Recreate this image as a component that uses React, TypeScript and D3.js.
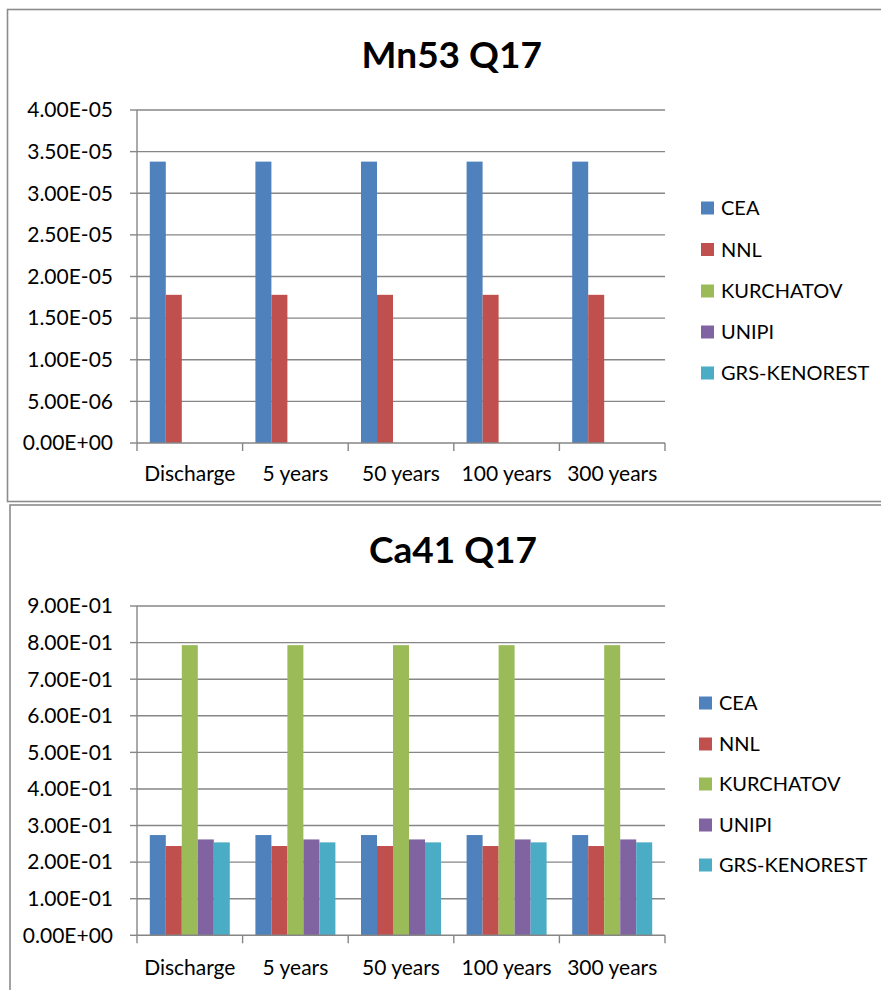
import React from "react";
import * as d3 from "d3";

const categories = ["Discharge", "5 years", "50 years", "100 years", "300 years"];
const seriesNames = ["CEA", "NNL", "KURCHATOV", "UNIPI", "GRS-KENOREST"];
const seriesColors = ["#4F81BD", "#C0504D", "#9BBB59", "#8064A2", "#4BACC6"];

// Mn53 Q17 values per series (one value per category)
const mn53CEA = [3.38e-5, 3.38e-5, 3.38e-5, 3.38e-5, 3.38e-5];
const mn53NNL = [1.78e-5, 1.78e-5, 1.78e-5, 1.78e-5, 1.78e-5];
const mn53KURCHATOV = [0, 0, 0, 0, 0];
const mn53UNIPI = [0, 0, 0, 0, 0];
const mn53GRS = [0, 0, 0, 0, 0];
const mn53Ticks = [0, 5e-6, 1e-5, 1.5e-5, 2e-5, 2.5e-5, 3e-5, 3.5e-5, 4e-5];
const mn53TickLabels = ["0.00E+00", "5.00E-06", "1.00E-05", "1.50E-05", "2.00E-05", "2.50E-05", "3.00E-05", "3.50E-05", "4.00E-05"];

// Ca41 Q17
const ca41CEA = [0.274, 0.274, 0.274, 0.274, 0.274];
const ca41NNL = [0.244, 0.244, 0.244, 0.244, 0.244];
const ca41KURCHATOV = [0.793, 0.793, 0.793, 0.793, 0.793];
const ca41UNIPI = [0.262, 0.262, 0.262, 0.262, 0.262];
const ca41GRS = [0.254, 0.254, 0.254, 0.254, 0.254];
const ca41Ticks = [0, 0.1, 0.2, 0.3, 0.4, 0.5, 0.6, 0.7, 0.8, 0.9];
const ca41TickLabels = ["0.00E+00", "1.00E-01", "2.00E-01", "3.00E-01", "4.00E-01", "5.00E-01", "6.00E-01", "7.00E-01", "8.00E-01", "9.00E-01"];

const FONT = "Lato, 'Open Sans', sans-serif";
const GRID = "#868686";

type PanelProps = {
  title: string;
  frame: { x: number; y: number; w: number; h: number };
  titleY: number;
  plot: { x0: number; x1: number; yTop: number; yBottom: number };
  ticks: number[];
  tickLabels: string[];
  series: number[][];
  catLabelY: number;
  legendX: number;
  legendY: number[];
};

function Panel(p: PanelProps) {
  const x = d3.scaleBand<string>().domain(categories).range([p.plot.x0, p.plot.x1]).paddingInner(0).paddingOuter(0);
  const xi = d3.scaleBand<string>().domain(seriesNames).range([0, x.bandwidth()]).paddingInner(0).paddingOuter(0.8);
  const y = d3.scaleLinear().domain([0, p.ticks[p.ticks.length - 1]]).range([p.plot.yBottom, p.plot.yTop]);
  const boundaries = categories.map((c) => x(c) as number).concat([p.plot.x1]);
  return (
    <g>
      <rect x={p.frame.x} y={p.frame.y} width={p.frame.w} height={p.frame.h} fill="#fff" stroke="#8c8c8c" strokeWidth={1.6} />
      <text x={(p.frame.x + 890) / 2 + 3} y={p.titleY} textAnchor="middle" fontFamily={FONT} fontWeight={700} fontSize={37} fill="#000">
        {p.title}
      </text>
      {p.ticks.map((t, i) => (
        <g key={"t" + i}>
          {i > 0 && <line x1={p.plot.x0} x2={p.plot.x1} y1={y(t)} y2={y(t)} stroke={GRID} strokeWidth={1.4} />}
          <line x1={p.plot.x0 - 7} x2={p.plot.x0} y1={y(t)} y2={y(t)} stroke={GRID} strokeWidth={1.4} />
          <text x={p.plot.x0 - 24} y={y(t)} dy="0.35em" textAnchor="end" fontFamily={FONT} fontSize={21} fill="#000">
            {p.tickLabels[i]}
          </text>
        </g>
      ))}
      {p.series.map((vals, si) =>
        vals.map((v, ci) =>
          v > 0 ? (
            <rect
              key={"b" + si + "-" + ci}
              x={(x(categories[ci]) as number) + (xi(seriesNames[si]) as number)}
              y={y(v)}
              width={xi.bandwidth()}
              height={p.plot.yBottom - y(v)}
              fill={seriesColors[si]}
            />
          ) : null
        )
      )}
      <line x1={p.plot.x0} x2={p.plot.x0} y1={p.plot.yTop} y2={p.plot.yBottom} stroke={GRID} strokeWidth={1.4} />
      <line x1={p.plot.x0} x2={p.plot.x1} y1={p.plot.yBottom} y2={p.plot.yBottom} stroke={GRID} strokeWidth={1.4} />
      {boundaries.map((bx, i) => (
        <line key={"xt" + i} x1={bx} x2={bx} y1={p.plot.yBottom} y2={p.plot.yBottom + 8} stroke={GRID} strokeWidth={1.4} />
      ))}
      {categories.map((c) => (
        <text key={c} x={(x(c) as number) + x.bandwidth() / 2} y={p.catLabelY} dy="0.35em" textAnchor="middle" fontFamily={FONT} fontSize={21} fill="#000">
          {c}
        </text>
      ))}
      {seriesNames.map((s, i) => (
        <g key={s}>
          <rect x={p.legendX} y={p.legendY[i] - 6.5} width={13} height={13} fill={seriesColors[i]} />
          <text x={p.legendX + 20} y={p.legendY[i]} dy="0.36em" fontFamily={FONT} fontSize={20} fill="#000">
            {s}
          </text>
        </g>
      ))}
    </g>
  );
}

export default function App() {
  return (
    <svg width={881} height={990} style={{ position: "absolute", left: 0, top: 0, background: "#fff" }}>
      <rect x={0} y={0} width={881} height={990} fill="#fff" />
      <Panel
        title="Mn53 Q17"
        frame={{ x: 7.5, y: 9.5, w: 900, h: 492 }}
        titleY={68}
        plot={{ x0: 137, x1: 665, yTop: 110, yBottom: 443 }}
        ticks={mn53Ticks}
        tickLabels={mn53TickLabels}
        series={[mn53CEA, mn53NNL, mn53KURCHATOV, mn53UNIPI, mn53GRS]}
        catLabelY={474}
        legendX={701}
        legendY={[208, 249.5, 291, 332, 373]}
      />
      <Panel
        title="Ca41 Q17"
        frame={{ x: 10, y: 505, w: 900, h: 500 }}
        titleY={563}
        plot={{ x0: 137, x1: 665, yTop: 606, yBottom: 935.3 }}
        ticks={ca41Ticks}
        tickLabels={ca41TickLabels}
        series={[ca41CEA, ca41NNL, ca41KURCHATOV, ca41UNIPI, ca41GRS]}
        catLabelY={968}
        legendX={699}
        legendY={[703, 744, 784, 825, 865]}
      />
    </svg>
  );
}
